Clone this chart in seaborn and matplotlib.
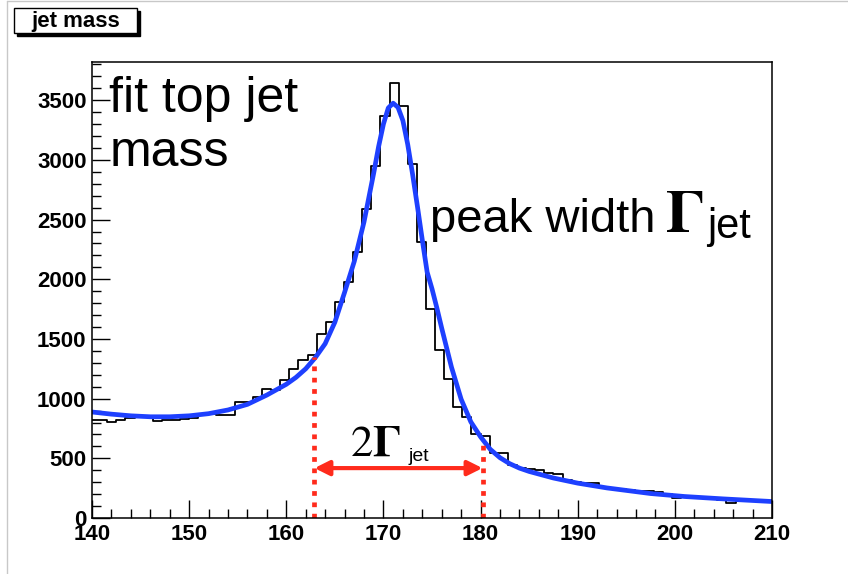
import numpy as np
import pandas as pd
import matplotlib
matplotlib.use("Agg")
import matplotlib.pyplot as plt
import seaborn as sns
from matplotlib.patches import Rectangle
from matplotlib.lines import Line2D
from matplotlib.ticker import MultipleLocator

# histogram: 320 bins over 0-300 GeV -> 0.9375 GeV per bin, bins 149..223 are visible
bin_width = 0.9375
bin_index = np.arange(149, 224)
counts = [825, 825, 805, 819, 834, 842, 842, 811, 822, 822,
          830, 835, 872, 868, 862, 865,
          972, 972, 1014, 1084, 1070, 1154, 1251, 1321, 1363, 1544,
          1641, 1808, 1976, 2227, 2590, 2950, 3370, 3640, 3453, 2966,
          2310, 1753, 1405, 1168, 931, 847, 705, 690, 541, 541,
          443, 415, 407, 400, 379, 365, 318, 300, 295, 292,
          262, 245, 242, 232, 228, 230, 215, 200, 168, 175,
          178, 170, 160, 152, 125, 145, 142, 140, 138]

# fitted curve
fit_mass = [140, 142, 144, 146, 148, 150, 152, 154, 156, 158, 160, 161, 162, 163,
            164, 165, 166, 167, 168, 169, 169.5, 170, 170.5, 171, 171.5, 172,
            172.5, 173, 173.5, 174, 174.5, 175, 175.5, 176, 177, 178, 179, 180,
            181, 182, 183, 184, 185, 187.5, 190, 193, 197.5, 201, 205, 210]
fit_vals = [888, 870, 856, 848, 848, 856, 874, 905, 952, 1030, 1120, 1178, 1250, 1345,
            1460, 1640, 1890, 2150, 2480, 2890, 3110, 3300, 3435, 3475, 3440, 3330,
            3130, 2880, 2610, 2330, 2060, 1920, 1760, 1590, 1265, 995, 805, 680,
            575, 505, 455, 418, 390, 335, 292, 252, 205, 180, 160, 138]

# peak width markers
width_lo, width_hi = 162.9, 180.2
width_top = [1350, 665]
arrow_level = 418

edges = [float(e) for e in np.append(bin_index, bin_index[-1] + 1) * bin_width]
centers = (bin_index + 0.5) * bin_width
df = pd.DataFrame({"mass": centers, "n": counts})
fit = pd.DataFrame({"mass": fit_mass, "val": fit_vals})

sns.set_theme(style="white")
plt.rcParams["font.family"] = ["Liberation Sans", "DejaVu Sans"]
plt.rcParams["mathtext.fontset"] = "stix"
plt.rcParams["text.color"] = "black"
plt.rcParams["xtick.color"] = "black"
plt.rcParams["ytick.color"] = "black"

fig = plt.figure(figsize=(8.48, 5.74), dpi=100)
ax = fig.add_axes([92 / 848, 1 - 518 / 574, 680 / 848, 456 / 574])

sns.histplot(data=df, x="mass", weights="n", bins=edges, element="step",
             fill=False, color="black", linewidth=1.3, ax=ax)
sns.lineplot(data=fit, x="mass", y="val", color="#1e40ff", linewidth=3.4,
             sort=False, ax=ax)

red = "#ff2b1c"
for xv, top in zip([width_lo, width_hi], width_top):
    ax.plot([xv, xv], [0, top], color=red, linewidth=3.4,
            linestyle=(0, (1, 1.4)), solid_capstyle="butt", dash_capstyle="butt")
ax.annotate("", xy=(width_lo, arrow_level), xytext=(width_hi, arrow_level),
            arrowprops=dict(arrowstyle="<|-|>", color=red, lw=3,
                            mutation_scale=22, shrinkA=0, shrinkB=0))

ax.set_xlim(140, 210)
ax.set_ylim(0, 3820)
ax.set_xlabel("")
ax.set_ylabel("")
ax.xaxis.set_major_locator(MultipleLocator(10))
ax.xaxis.set_minor_locator(MultipleLocator(2))
ax.yaxis.set_major_locator(MultipleLocator(500))
ax.yaxis.set_minor_locator(MultipleLocator(100))
ax.tick_params(which="both", direction="in", top=False, right=False,
               bottom=True, left=True, color="black")
ax.tick_params(which="major", length=13, width=1, pad=4, labelsize=16,
               labelcolor="black")
ax.tick_params(which="minor", length=6.5, width=1)
for lab in ax.get_xticklabels() + ax.get_yticklabels():
    lab.set_fontweight("bold")
for sp in ax.spines.values():
    sp.set_color("black")
    sp.set_linewidth(1.1)

ax.text(141.8, 3700, "fit top jet\nmass", fontsize=36, va="top", ha="left",
        linespacing=1.2, color="black")
ax.text(174.8, 2395, "peak width", fontsize=34, va="baseline", ha="left",
        color="black")
ax.text(199.0, 2395, r"$\mathbf{\Gamma}$", fontsize=44, va="baseline", ha="left",
        color="black")
ax.text(203.3, 2345, "jet", fontsize=30, va="baseline", ha="left", color="black")
ax.text(166.6, 519, r"$2\mathbf{\Gamma}$", fontsize=32, va="baseline", ha="left",
        color="black")
ax.text(172.6, 480, "jet", fontsize=14, va="baseline", ha="left", color="black")

# title box with shadow, ROOT style
fig.patches.append(Rectangle((17 / 848, 1 - 36 / 574), 123 / 848, 25 / 574,
                             transform=fig.transFigure, facecolor="black",
                             edgecolor="black", zorder=1))
fig.patches.append(Rectangle((14 / 848, 1 - 33 / 574), 123 / 848, 25 / 574,
                             transform=fig.transFigure, facecolor="white",
                             edgecolor="black", linewidth=1, zorder=2))
fig.text(75.5 / 848, 1 - 21 / 574, "jet mass", fontsize=16, fontweight="bold",
         ha="center", va="center", zorder=3, color="black")

# canvas border
fig.add_artist(Line2D([7 / 848, 7 / 848], [0, 1 - 1 / 574], color="#c8c8c8",
                      linewidth=1, transform=fig.transFigure))
fig.add_artist(Line2D([7 / 848, 1], [1 - 1 / 574, 1 - 1 / 574], color="#c8c8c8",
                      linewidth=1, transform=fig.transFigure))

fig.savefig("out.png", dpi=100)
